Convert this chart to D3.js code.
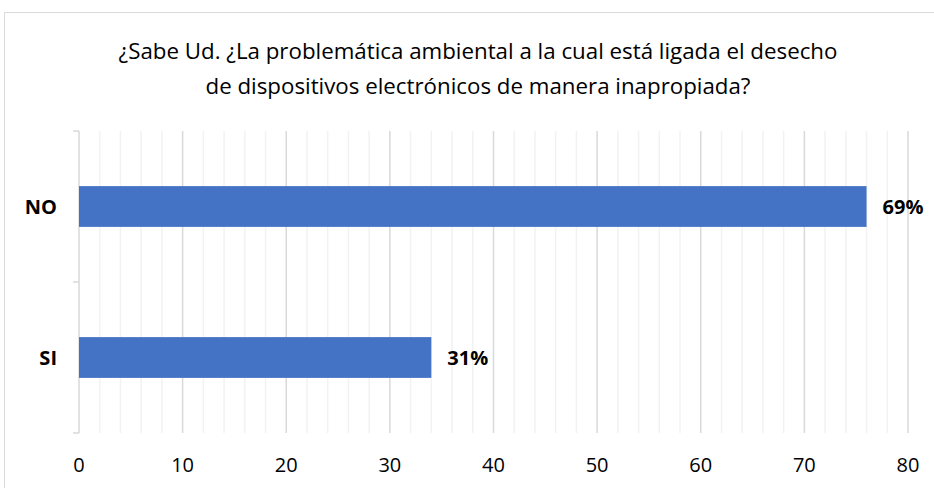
<!DOCTYPE html>
<html>
<head>
<meta charset="utf-8">
<script src="https://cdn.jsdelivr.net/npm/d3@7"></script>
<style>
  body { margin: 0; background: #fff; }
  text { font-family: "Open Sans", sans-serif; }
</style>
</head>
<body>
<svg id="chart" width="934" height="488"></svg>
<script>
// data
const categories = ['NO', 'SI'];
const values = [76, 34];
const labels = ['69%', '31%'];
const titleLines = [
  '¿Sabe Ud. ¿La problemática ambiental a la cual está ligada el desecho',
  'de dispositivos electrónicos de manera inapropiada?'
];
const xTicks = [0, 10, 20, 30, 40, 50, 60, 70, 80];

const svg = d3.select('#chart');

// outer chart border
svg.append('rect')
   .attr('x', 4.5)
   .attr('y', 12.5)
   .attr('width', 940)
   .attr('height', 490)
   .attr('fill', '#fff')
   .attr('stroke', '#d9d9d9')
   .attr('stroke-width', 1);

let start = {x: 79, y: 131};
let stop = {x: 908, y: 433};

let xScale = d3.scaleLinear()
               .domain([0, 80])
               .range([start.x, stop.x]);
let yScale = d3.scaleBand()
               .domain(categories)
               .range([start.y, stop.y])
               .paddingInner(0.73)
               .paddingOuter(0.365);

// minor grid every 2
for(let v = 2; v <= 80; v += 2){
  if(v % 10 === 0) continue;
  svg.append('line')
     .attr('x1', xScale(v)).attr('x2', xScale(v))
     .attr('y1', start.y).attr('y2', stop.y)
     .attr('stroke', '#f2f2f2')
     .attr('stroke-width', 1.5);
}
// major grid
for(let v of xTicks){
  if(v === 0) continue;
  svg.append('line')
     .attr('x1', xScale(v)).attr('x2', xScale(v))
     .attr('y1', start.y).attr('y2', stop.y)
     .attr('stroke', '#d9d9d9')
     .attr('stroke-width', 1.5);
}

// category axis line + ticks
svg.append('line')
   .attr('x1', start.x).attr('x2', start.x)
   .attr('y1', start.y).attr('y2', stop.y)
   .attr('stroke', '#d9d9d9')
   .attr('stroke-width', 1.5);
let boundaries = [start.y, (start.y + stop.y) / 2, stop.y];
for(let b of boundaries){
  svg.append('line')
     .attr('x1', start.x - 6).attr('x2', start.x)
     .attr('y1', b).attr('y2', b)
     .attr('stroke', '#d9d9d9')
     .attr('stroke-width', 1.5);
}

// bars
svg.selectAll('.bar')
   .data(categories)
   .enter()
   .append('rect')
   .attr('class', 'bar')
   .attr('x', xScale(0))
   .attr('y', d => yScale(d))
   .attr('width', (d, i) => xScale(values[i]) - xScale(0))
   .attr('height', yScale.bandwidth())
   .attr('fill', '#4472c4');

// value labels
svg.selectAll('.vlabel')
   .data(categories)
   .enter()
   .append('text')
   .attr('class', 'vlabel')
   .attr('x', (d, i) => xScale(values[i]) + 16)
   .attr('y', d => yScale(d) + yScale.bandwidth() / 2)
   .attr('dy', '0.35em')
   .attr('font-size', '20px')
   .attr('font-weight', 'bold')
   .attr('fill', '#000')
   .text((d, i) => labels[i]);

// category labels
svg.selectAll('.clabel')
   .data(categories)
   .enter()
   .append('text')
   .attr('class', 'clabel')
   .attr('x', start.x - 22)
   .attr('y', d => yScale(d) + yScale.bandwidth() / 2)
   .attr('dy', '0.35em')
   .attr('text-anchor', 'end')
   .attr('font-size', '20px')
   .attr('font-weight', 'bold')
   .attr('fill', '#000')
   .text(d => d);

// x tick labels
svg.selectAll('.xlabel')
   .data(xTicks)
   .enter()
   .append('text')
   .attr('class', 'xlabel')
   .attr('x', d => xScale(d))
   .attr('y', 472)
   .attr('text-anchor', 'middle')
   .attr('font-size', '20px')
   .attr('fill', '#000')
   .text(d => d);

// title
svg.selectAll('.title')
   .data(titleLines)
   .enter()
   .append('text')
   .attr('class', 'title')
   .attr('x', 478)
   .attr('y', (d, i) => 59 + i * 35)
   .attr('text-anchor', 'middle')
   .attr('font-size', '22.3px')
   .attr('fill', '#000')
   .text(d => d);
</script>
</body>
</html>
